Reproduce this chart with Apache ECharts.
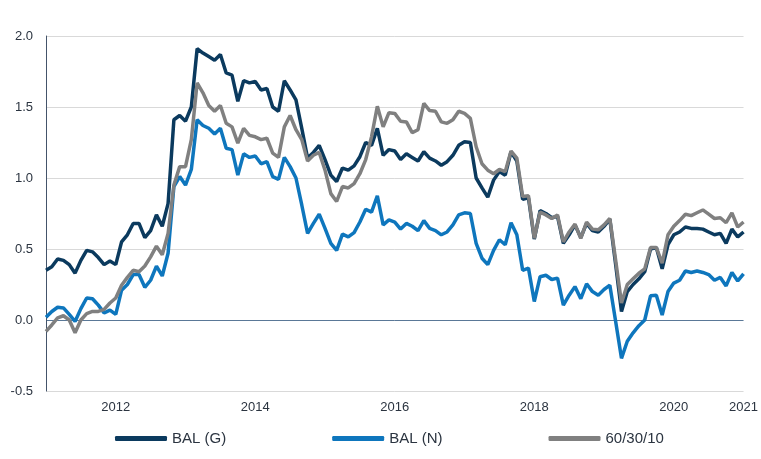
<!DOCTYPE html>
<html>
<head>
<meta charset="utf-8">
<script src="https://cdn.jsdelivr.net/npm/echarts@6/dist/echarts.min.js"></script>
<style>
  html, body { margin: 0; padding: 0; background: #fff; }
  #chart { width: 761px; height: 459px; }
</style>
</head>
<body>
<div id="chart"></div>
<script>
// monthly, Jan 2011 .. Jan 2021
var months = []
for (var y = 2011; y <= 2021; y++) {
  for (var m = 1; m <= 12; m++) {
    if (y === 2021 && m > 1) break
    months.push(y + '-' + (m < 10 ? '0' + m : m))
  }
}

// which months get a year label
var tickMonths = ['2012-01', '2014-01', '2016-01', '2018-01', '2020-01', '2021-01']
var tickLabels = ['2012', '2014', '2016', '2018', '2020', '2021']

var balG = [
  0.35, 0.375, 0.43, 0.42, 0.39, 0.33, 0.42, 0.49, 0.48, 0.44, 0.39, 0.415,
  0.39, 0.55, 0.60, 0.68, 0.68, 0.58, 0.63, 0.74, 0.66, 0.82, 1.41, 1.44,
  1.40, 1.50, 1.91, 1.88, 1.855, 1.83, 1.87, 1.74, 1.725, 1.54, 1.685, 1.67,
  1.68, 1.62, 1.63, 1.50, 1.47, 1.685, 1.62, 1.55, 1.35, 1.14, 1.18, 1.23,
  1.13, 1.02, 0.975, 1.07, 1.055, 1.085, 1.15, 1.25, 1.23, 1.35, 1.16, 1.20,
  1.19, 1.13, 1.17, 1.145, 1.12, 1.185, 1.14, 1.12, 1.09, 1.115, 1.16, 1.23,
  1.255, 1.25, 1.0, 0.93, 0.865, 0.985, 1.045, 1.02, 1.185, 1.12, 0.85, 0.86,
  0.57, 0.77, 0.75, 0.72, 0.73, 0.54, 0.60, 0.67, 0.58, 0.68, 0.63, 0.62,
  0.66, 0.71, 0.39, 0.06, 0.20, 0.25, 0.29, 0.34, 0.50, 0.51, 0.36, 0.53,
  0.60, 0.62, 0.655, 0.645, 0.645, 0.64, 0.62, 0.60, 0.61, 0.54, 0.64, 0.585,
  0.62
]

var balN = [
  0.02, 0.06, 0.09, 0.085, 0.04, -0.01, 0.08, 0.155, 0.15, 0.105, 0.05, 0.07,
  0.04, 0.21, 0.25, 0.32, 0.32, 0.23, 0.28, 0.38, 0.31, 0.47, 0.94, 1.01,
  0.95, 1.06, 1.41, 1.37, 1.35, 1.31, 1.35, 1.21, 1.20, 1.02, 1.17, 1.145,
  1.155, 1.10, 1.115, 1.01, 0.99, 1.145, 1.08, 1.0, 0.81, 0.61, 0.68, 0.745,
  0.645, 0.54, 0.49, 0.605, 0.585, 0.615, 0.69, 0.78, 0.76, 0.875, 0.67, 0.705,
  0.69, 0.64, 0.68, 0.66, 0.63, 0.70, 0.645, 0.63, 0.60, 0.62, 0.67, 0.74,
  0.755, 0.75, 0.54, 0.435, 0.39, 0.49, 0.565, 0.53, 0.685, 0.60, 0.35, 0.365,
  0.13, 0.305, 0.315, 0.285, 0.295, 0.105, 0.175, 0.235, 0.15, 0.255, 0.20, 0.175,
  0.215, 0.245, -0.01, -0.27, -0.15, -0.09, -0.04, 0.0, 0.17, 0.175, 0.035, 0.20,
  0.26, 0.28, 0.345, 0.335, 0.345, 0.335, 0.32, 0.28, 0.30, 0.24, 0.335, 0.275,
  0.325
]

var mix603010 = [
  -0.08, -0.035, 0.015, 0.03, 0.0, -0.09, 0.0, 0.045, 0.06, 0.06, 0.075, 0.12,
  0.155, 0.245, 0.30, 0.35, 0.34, 0.38, 0.445, 0.52, 0.46, 0.61, 0.95, 1.08,
  1.08, 1.27, 1.67, 1.60, 1.51, 1.47, 1.51, 1.385, 1.36, 1.245, 1.35, 1.30,
  1.29, 1.27, 1.28, 1.175, 1.145, 1.36, 1.44, 1.34, 1.27, 1.12, 1.16, 1.18,
  1.055, 0.89, 0.835, 0.94, 0.93, 0.96, 1.03, 1.13, 1.29, 1.505, 1.36, 1.46,
  1.455, 1.40, 1.395, 1.32, 1.34, 1.525, 1.475, 1.47, 1.395, 1.385, 1.41, 1.47,
  1.455, 1.42, 1.22, 1.10, 1.055, 1.03, 1.06, 1.045, 1.19, 1.14, 0.87, 0.875,
  0.575, 0.76, 0.74, 0.715, 0.74, 0.55, 0.62, 0.675, 0.575, 0.69, 0.64, 0.635,
  0.67, 0.715, 0.42, 0.12, 0.25, 0.29, 0.33, 0.36, 0.51, 0.51, 0.40, 0.60,
  0.66, 0.70, 0.745, 0.735, 0.755, 0.775, 0.745, 0.715, 0.72, 0.685, 0.755, 0.655,
  0.69
]

var chart = echarts.init(document.getElementById('chart'))

function line(name, data, color) {
  return {
    name: name,
    type: 'line',
    data: data,
    symbol: 'none',
    lineStyle: { width: 3.5, color: color },
    itemStyle: { color: color }
  }
}

chart.setOption({
  animation: false,
  textStyle: { fontFamily: 'Liberation Sans, Arial, sans-serif' },
  grid: { left: 46, right: 15, top: 36, bottom: 68 },
  xAxis: {
    type: 'category',
    data: months,
    boundaryGap: false,
    axisLine: { show: false, onZero: false },
    axisTick: { show: false },
    splitLine: { show: false },
    axisLabel: {
      interval: function (idx, val) { return tickMonths.indexOf(val) >= 0 },
      formatter: function (val) { return tickLabels[tickMonths.indexOf(val)] },
      color: '#2b3440',
      fontSize: 13,
      margin: 10
    }
  },
  yAxis: {
    type: 'value',
    min: -0.5,
    max: 2.0,
    interval: 0.5,
    axisLine: { show: true, lineStyle: { color: '#44546a', width: 1 } },
    axisTick: { show: false },
    axisLabel: {
      color: '#2b3440',
      fontSize: 13,
      margin: 13,
      formatter: function (v) { return v.toFixed(1) }
    },
    splitLine: {
      lineStyle: { color: ['#d9d9d9', '#5a7897', '#d9d9d9', '#d9d9d9', '#d9d9d9', '#d9d9d9'], width: 1 }
    }
  },
  legend: {
    bottom: 8,
    left: 110,
    itemWidth: 52,
    itemHeight: 5,
    itemGap: 106,
    icon: 'roundRect',
    textStyle: { color: '#2b3440', fontSize: 15 },
    data: ['BAL (G)', 'BAL (N)', '60/30/10']
  },
  series: [
    line('BAL (G)', balG, '#0b3a5e'),
    line('BAL (N)', balN, '#0e76bd'),
    line('60/30/10', mix603010, '#808080')
  ]
})
</script>
</body>
</html>
